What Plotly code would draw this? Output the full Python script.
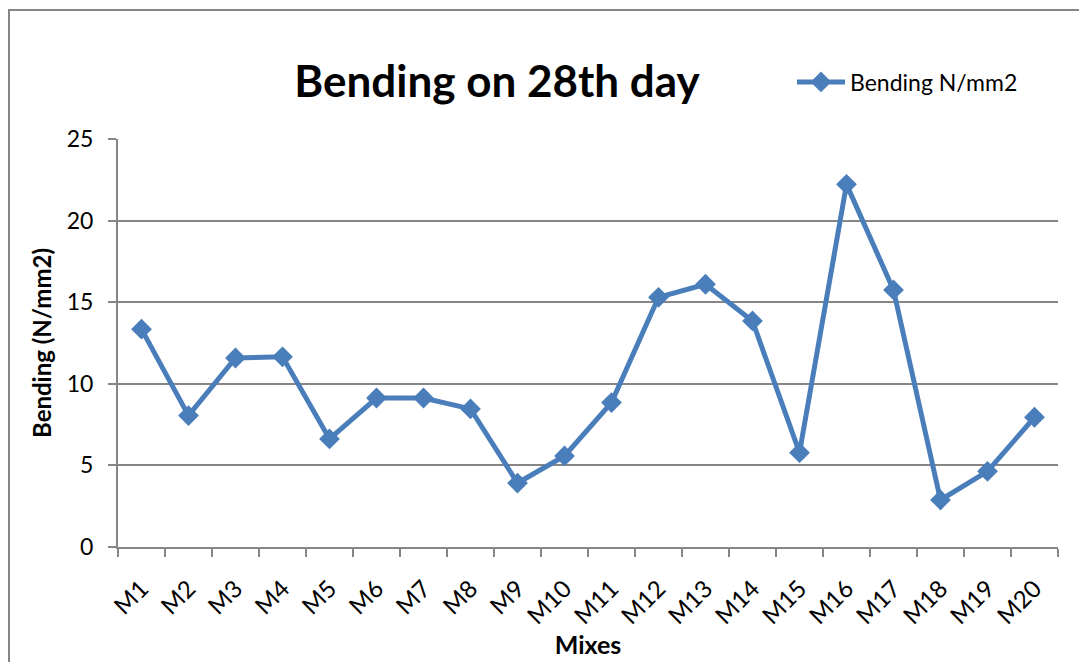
import plotly.graph_objects as go

mixes = [f"M{i}" for i in range(1, 21)]
bending = [13.35, 8.05, 11.58, 11.65, 6.62, 9.13, 9.13, 8.46, 3.92, 5.58,
           8.85, 15.3, 16.1, 13.85, 5.78, 22.22, 15.75, 2.88, 4.64, 7.95]

FONT = "Lato"
grey = "#868686"
blue = "#4A7EBB"

W, H = 1079, 654
L, T = 110, 131
R = W - 1050
B = H - 539

fig = go.Figure()
fig.add_trace(go.Scatter(
    x=mixes, y=bending, mode="lines+markers", name="Bending N/mm2",
    line=dict(color=blue, width=5),
    marker=dict(symbol="diamond", size=16, color=blue),
))

fig.update_layout(
    width=W, height=H,
    margin=dict(l=L, r=R, t=T, b=B),
    paper_bgcolor="white", plot_bgcolor="white",
    font=dict(family=FONT, color="black", size=23),
    title=dict(text="<b>Bending on 28th day</b>", x=489 / W, xanchor="center",
               y=1 - 74 / H, yanchor="middle", font=dict(size=44, family=FONT)),
    showlegend=True,
    legend=dict(x=(784 - L) / 940, xanchor="left", y=1 + (T - 74) / 408, yanchor="middle",
                font=dict(size=23, family=FONT), bgcolor="rgba(0,0,0,0)",
                itemwidth=48),
    xaxis=dict(
        type="category", tickangle=-45, tickson="boundaries",
        ticks="outside", ticklen=8, tickcolor=grey, tickwidth=2,
        showline=True, linecolor=grey, linewidth=2, showgrid=False,
        tickfont=dict(size=24, family=FONT), ticklabelstandoff=16,
        title=dict(text="<b>Mixes</b>", font=dict(size=25, family=FONT), standoff=4),
        range=[-0.5, 19.5],
    ),
    yaxis=dict(
        range=[0, 25], dtick=5, ticks="outside", ticklen=8, tickcolor=grey,
        tickwidth=2, showline=True, linecolor=grey, linewidth=2,
        showgrid=True, gridcolor=grey, gridwidth=2, zeroline=False,
        tickfont=dict(size=23, family=FONT), ticklabelstandoff=10,
        title=dict(text="<b>Bending (N/mm2)</b>", font=dict(size=24, family=FONT), standoff=8),
    ),
)

fig.add_shape(type="rect", xref="paper", yref="paper",
              x0=(1 - L) / 940, x1=1.2, y0=-0.5, y1=1 + (T - 2) / 408,
              line=dict(color=grey, width=2), fillcolor="rgba(0,0,0,0)", layer="below")

fig.write_html("out.html")
